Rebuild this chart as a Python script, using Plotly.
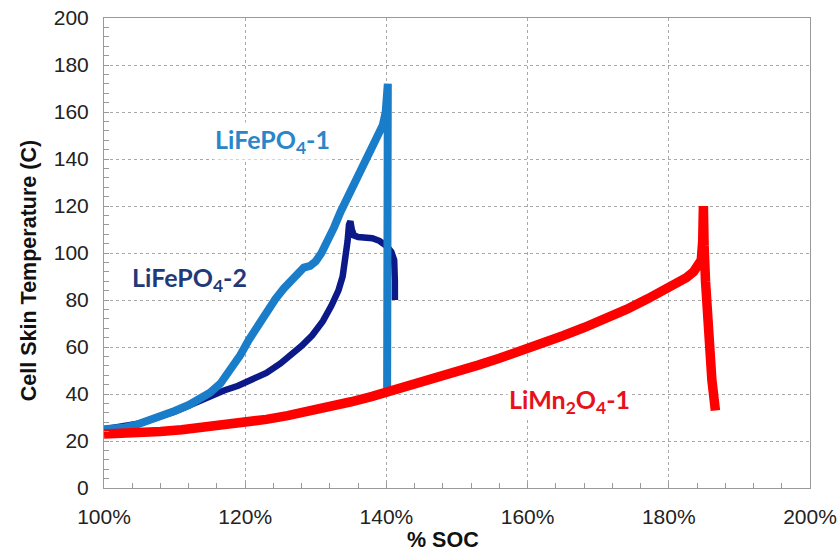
import plotly.graph_objects as go

# LiFePO4-1 (light blue)
lfp1_soc = [100, 101.5, 103, 104.5, 106, 108, 110, 112, 113.5, 115, 116.5, 118, 119.3, 120.5,
            121.7, 123, 124.3, 125.5, 126.5, 127.5, 128.3, 129.2, 130, 130.8, 131.7, 132.6,
            133.5, 134.5, 135.8, 137.1, 138.4, 139.5, 139.9, 140.2, 140.1]
lfp1_temp = [25, 25.3, 25.8, 26.8, 28.3, 30.5, 32.8, 35.3, 37.5, 40.5, 44.5, 50.5, 56.5, 63,
             69, 75, 80.5, 85, 88.5, 92, 93.8, 94.5, 96.5, 100, 105, 111,
             117.5, 123.5, 131, 139, 147, 154.5, 160, 172, 41]

# LiFePO4-2 (navy)
lfp2_soc = [100, 105, 110, 113, 115, 117, 119, 121, 123, 125, 126.5, 128, 129.5, 131, 132.2,
            133.2, 133.8, 134.2, 134.5, 134.7, 134.9, 135.1, 135.4, 136, 137, 138, 139, 140,
            140.7, 141.1, 141.2, 141.2]
lfp2_temp = [25, 27.5, 32.5, 36.5, 39, 41.5, 43.5, 46, 49, 53, 56.5, 60.5, 65, 71, 77.5,
             84, 90, 97, 105, 112, 113.5, 110, 107.5, 106.8, 106.8, 106.3, 105.2, 103,
             100.5, 97, 88, 80]

# LiMn2O4-1 (red)
lmo_soc = [100, 102, 105, 108, 111, 114, 117, 120, 123, 126, 129, 132, 135, 138, 141, 144,
           147, 150, 153, 156, 159, 162, 165, 168, 171, 174, 177, 179, 181, 182.5, 183.5,
           184.2, 184.6, 184.8, 184.9, 185.0, 185.2, 185.4, 185.7, 186.1, 186.6]
lmo_temp = [23, 23, 23.3, 24, 24.8, 25.8, 26.7, 27.8, 29.2, 30.8, 32.5, 34.5, 36.7, 39, 41.5, 44,
            46.8, 49.5, 52.3, 55.2, 58.2, 61.5, 64.8, 68.3, 72, 76, 80.5, 83.5, 86.5, 89.5, 92,
            94.5, 97, 105, 120, 103, 88, 75, 60, 46, 33]

x_ticks = [100, 120, 140, 160, 180, 200]
x_labels = ["100%", "120%", "140%", "160%", "180%", "200%"]
y_ticks = [0, 20, 40, 60, 80, 100, 120, 140, 160, 180, 200]

fig = go.Figure()
fig.add_trace(go.Scatter(x=lfp2_soc, y=lfp2_temp, mode="lines",
                         line=dict(color="#0b1a88", width=6.5), name="LiFePO4-2"))
fig.add_trace(go.Scatter(x=lfp1_soc, y=lfp1_temp, mode="lines",
                         line=dict(color="#1a7dca", width=8), name="LiFePO4-1"))
fig.add_trace(go.Scatter(x=lmo_soc, y=lmo_temp, mode="lines",
                         line=dict(color="#ff0000", width=9.5), name="LiMn2O4-1"))

lab_font = "Lato, 'Open Sans', sans-serif"
fig.add_annotation(x=123.9, y=147.5, text="<b>LiFePO<sub>4</sub>-1</b>", showarrow=False,
                   font=dict(family=lab_font, size=25, color="#2a86c8"), bgcolor="white")
fig.add_annotation(x=112.1, y=89, text="<b>LiFePO<sub>4</sub>-2</b>", showarrow=False,
                   font=dict(family=lab_font, size=25, color="#1f3a7a"), bgcolor="white")
fig.add_annotation(x=166, y=37, text="<b>LiMn<sub>2</sub>O<sub>4</sub>-1</b>", showarrow=False,
                   font=dict(family=lab_font, size=25, color="#e8101c"), bgcolor="white")

title_font = dict(family="Liberation Sans, Arial, sans-serif", size=21.5, color="#111")
fig.add_annotation(xref="paper", yref="paper", x=-0.106, y=0.4617, text="<b>Cell Skin Temperature (C)</b>",
                   textangle=-90, showarrow=False, font=title_font, xanchor="center", yanchor="middle")
fig.add_annotation(xref="paper", yref="paper", x=0.48, y=-0.1106, text="<b>% SOC</b>",
                   showarrow=False, font=title_font, xanchor="center", yanchor="middle")

axis_font = dict(family="Liberation Sans, Arial, sans-serif", size=21, color="#222")
common = dict(showgrid=True, gridcolor="#a8a8a8", griddash="dot", gridwidth=1,
              showline=True, linecolor="#999999", linewidth=1, mirror=True,
              ticks="inside", ticklen=5, tickcolor="#999999", zeroline=False,
              tickfont=axis_font, ticklabelstandoff=10, automargin=False,
              minor=dict(dtick=4, ticks="inside", ticklen=5, tickcolor="#999999", showgrid=False))
fig.update_xaxes(range=[100, 200], tickvals=x_ticks, ticktext=x_labels, **common)
fig.update_yaxes(range=[0, 200], tickvals=y_ticks, **common)
fig.update_layout(width=840, height=554, margin=dict(l=104, r=30, t=18, b=66),
                  plot_bgcolor="white", paper_bgcolor="white", showlegend=False)
fig.write_html("out.html")
